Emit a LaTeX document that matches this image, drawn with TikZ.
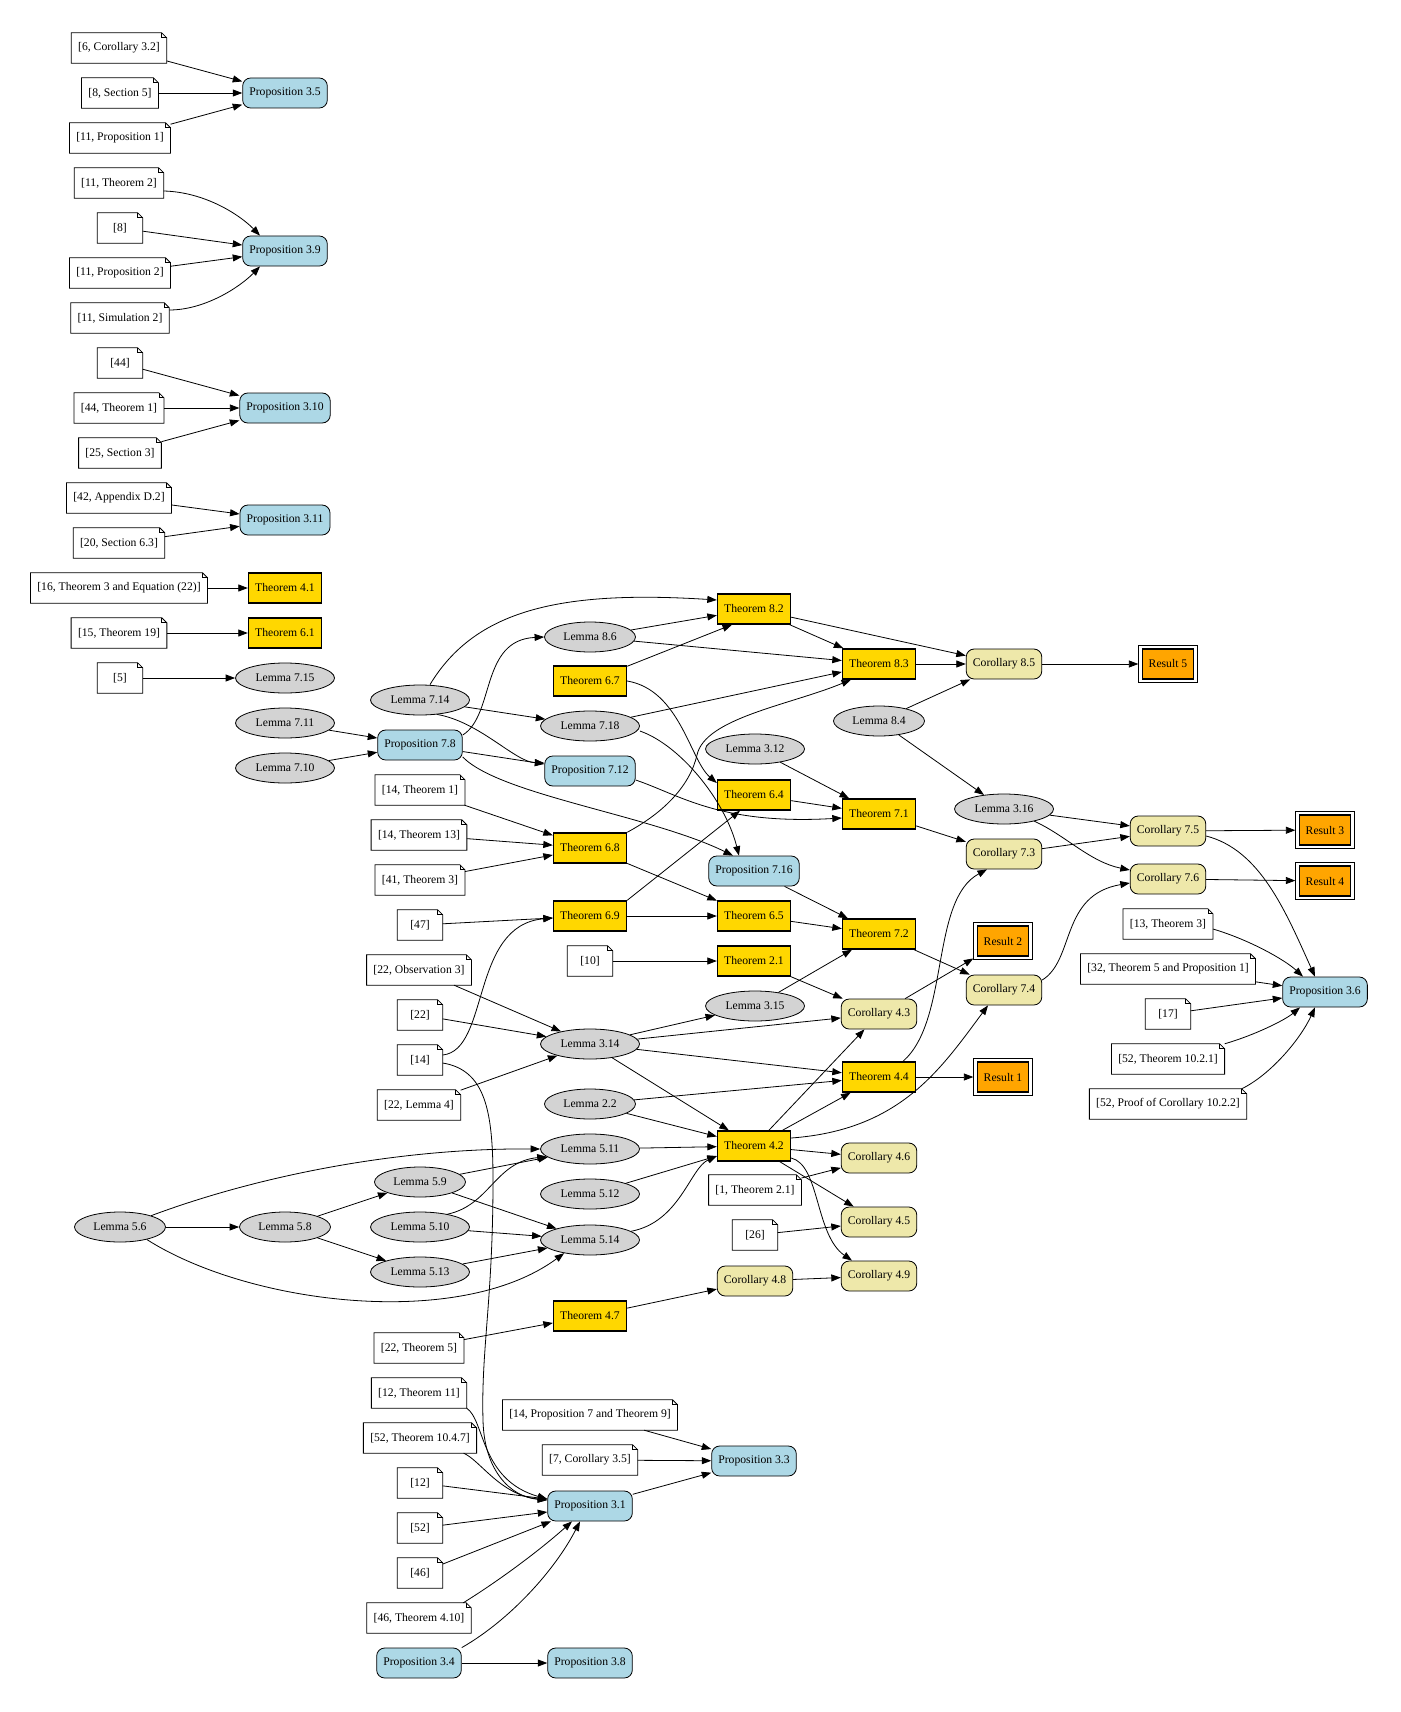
\documentclass[tikz,border=0pt]{standalone}
\usepackage{fontspec}
\setmainfont{Liberation Serif}
\usetikzlibrary{arrows.meta,shapes.geometric}
\definecolor{lblue}{HTML}{ADD8E6}
\definecolor{gold}{HTML}{FFD700}
\definecolor{pgold}{HTML}{EEE8AA}
\definecolor{lgray}{HTML}{D3D3D3}
\definecolor{orng}{HTML}{FFA500}
\newcommand\gvfont{\fontsize{11.67pt}{14pt}\selectfont}
\newcommand\notebox[3]{%
  \node[cite] (#1) at (#2) {#3};
  \draw[noteline] (#1.south west) -- (#1.south east) -- ([yshift=-5pt]#1.north east) -- ([xshift=-5pt]#1.north east) -- (#1.north west) -- cycle;
  \draw[noteline] ([xshift=-5pt]#1.north east) -- ([xshift=-5pt,yshift=-5pt]#1.north east) -- ([yshift=-5pt]#1.north east);
}
\newcommand\resbox[3]{%
  \node[resouter] (#1) at (#2) {};
  \node[resinner] (#1in) at (#2) {#3};
}
\begin{document}
\begin{tikzpicture}[x=1pt,y=-1pt,
  every node/.style={font=\gvfont, text=black},
  cite/.style={rectangle, draw=none, fill=white, inner xsep=6.67pt, inner ysep=0pt, minimum height=30pt, minimum width=45pt},
  noteline/.style={line width=0.8pt, line join=miter},
  lem/.style={ellipse, draw, line width=0.8pt, fill=lgray, inner sep=0pt, minimum height=30pt, minimum width=99pt},
  lems/.style={lem, minimum width=91pt},
  thm/.style={rectangle, draw, line width=1.4pt, fill=gold, inner xsep=6.67pt, inner ysep=0pt, minimum height=30pt, minimum width=45pt},
  prop/.style={rectangle, rounded corners=8pt, draw, line width=0.8pt, fill=lblue, inner xsep=6.67pt, inner ysep=0pt, minimum height=30pt, minimum width=45pt},
  cor/.style={prop, fill=pgold},
  resouter/.style={rectangle, draw, line width=0.8pt, fill=white, minimum width=58.5pt, minimum height=37pt, inner sep=0pt},
  resinner/.style={rectangle, draw, line width=1.4pt, fill=orng, minimum width=51pt, minimum height=30pt, inner sep=0pt},
  e/.style={line width=0.8pt, -{Triangle[length=9.5pt,width=7pt]}}
]
\useasboundingbox (0,0) rectangle (1400,1712);

% column 1 notes
\notebox{n1}{119,48}{[6, Corollary 3.2]}
\notebox{n2}{120,93}{[8, Section 5]}
\notebox{n3}{120,138}{[11, Proposition 1]}
\notebox{n4}{119,183}{[11, Theorem 2]}
\notebox{n5}{120,228}{[8]}
\notebox{n6}{120,273}{[11, Proposition 2]}
\notebox{n7}{120,318}{[11, Simulation 2]}
\notebox{n8}{120,363}{[44]}
\notebox{n9}{119,408}{[44, Theorem 1]}
\notebox{n10}{120,453}{[25, Section 3]}
\notebox{n11}{119,498}{[42, Appendix D.2]}
\notebox{n12}{119,543}{[20, Section 6.3]}
\notebox{n13}{119,588}{[16, Theorem 3 and Equation (22)]}
\notebox{n14}{119,633}{[15, Theorem 19]}
\notebox{n15}{120,678}{[5]}
\node[lems] (L56) at (120,1227) {Lemma 5.6};

% column 2
\node[prop] (P35) at (285,93) {Proposition 3.5};
\node[prop] (P39) at (285,251) {Proposition 3.9};
\node[prop] (P310) at (285,408) {Proposition 3.10};
\node[prop] (P311) at (285,520) {Proposition 3.11};
\node[thm] (T41) at (285,588) {Theorem 4.1};
\node[thm] (T61) at (285,633) {Theorem 6.1};
\node[lem] (L715) at (285,678) {Lemma 7.15};
\node[lem] (L711) at (285,723) {Lemma 7.11};
\node[lem] (L710) at (285,768) {Lemma 7.10};
\node[lems] (L58) at (285,1227) {Lemma 5.8};

% column 3
\node[lem] (L714) at (420,700) {Lemma 7.14};
\node[prop] (P78) at (420,745) {Proposition 7.8};
\notebox{q1}{420,790}{[14, Theorem 1]}
\notebox{q2}{419,835}{[14, Theorem 13]}
\notebox{q3}{420,880}{[41, Theorem 3]}
\notebox{q4}{420,925}{[47]}
\notebox{q5}{419,970}{[22, Observation 3]}
\notebox{q6}{420,1015}{[22]}
\notebox{q7}{420,1060}{[14]}
\notebox{q8}{419,1105}{[22, Lemma 4]}
\node[lems] (L59) at (420,1182) {Lemma 5.9};
\node[lem] (L510) at (420,1227) {Lemma 5.10};
\node[lem] (L513) at (420,1272) {Lemma 5.13};
\notebox{q9}{419,1348}{[22, Theorem 5]}
\notebox{q10}{419,1393}{[12, Theorem 11]}
\notebox{q11}{420,1438}{[52, Theorem 10.4.7]}
\notebox{q12}{420,1483}{[12]}
\notebox{q13}{420,1528}{[52]}
\notebox{q14}{420,1573}{[46]}
\notebox{q15}{419,1618}{[46, Theorem 4.10]}
\node[prop] (P34) at (419,1663) {Proposition 3.4};

% column 4
\node[lems] (L86) at (590,637) {Lemma 8.6};
\node[thm] (T67) at (590,681) {Theorem 6.7};
\node[lem] (L718) at (590,726) {Lemma 7.18};
\node[prop] (P712) at (590,771) {Proposition 7.12};
\node[thm] (T68) at (590,848) {Theorem 6.8};
\node[thm] (T69) at (590,916) {Theorem 6.9};
\notebox{r1}{590,961}{[10]}
\node[lem] (L314) at (590,1044) {Lemma 3.14};
\node[lems] (L22) at (590,1104) {Lemma 2.2};
\node[lem] (L511) at (590,1149) {Lemma 5.11};
\node[lem] (L512) at (590,1194) {Lemma 5.12};
\node[lem] (L514) at (590,1240) {Lemma 5.14};
\node[thm] (T47) at (590,1316) {Theorem 4.7};
\notebox{r2}{590,1415}{[14, Proposition 7 and Theorem 9]}
\notebox{r3}{590,1460}{[7, Corollary 3.5]}
\node[prop] (P31) at (590,1506) {Proposition 3.1};
\node[prop] (P38) at (590,1663) {Proposition 3.8};

% column 5
\node[thm] (T82) at (754,609) {Theorem 8.2};
\node[lem] (L312) at (755,749) {Lemma 3.12};
\node[thm] (T64) at (754,795) {Theorem 6.4};
\node[prop] (P716) at (754,871) {Proposition 7.16};
\node[thm] (T65) at (754,916) {Theorem 6.5};
\node[thm] (T21) at (754,961) {Theorem 2.1};
\node[lem] (L315) at (755,1006) {Lemma 3.15};
\node[thm] (T42) at (754,1146) {Theorem 4.2};
\notebox{s1}{755,1190}{[1, Theorem 2.1]}
\notebox{s2}{755,1235}{[26]}
\node[cor] (C48) at (755,1281) {Corollary 4.8};
\node[prop] (P33) at (754,1461) {Proposition 3.3};

% column 6
\node[thm] (T83) at (879,664) {Theorem 8.3};
\node[lems] (L84) at (879,721) {Lemma 8.4};
\node[thm] (T71) at (879,814) {Theorem 7.1};
\node[thm] (T72) at (879,934) {Theorem 7.2};
\node[cor] (C43) at (879,1014) {Corollary 4.3};
\node[thm] (T44) at (879,1077) {Theorem 4.4};
\node[cor] (C46) at (879,1158) {Corollary 4.6};
\node[cor] (C45) at (879,1222) {Corollary 4.5};
\node[cor] (C49) at (879,1276) {Corollary 4.9};

% column 7
\node[cor] (C85) at (1004,664) {Corollary 8.5};
\node[lem] (L316) at (1004,809) {Lemma 3.16};
\node[cor] (C73) at (1004,854) {Corollary 7.3};
\resbox{R2}{1003,941}{Result 2}
\node[cor] (C74) at (1004,990) {Corollary 7.4};
\resbox{R1}{1003,1077}{Result 1}

% column 8
\resbox{R5}{1168,664}{Result 5}
\node[cor] (C75) at (1168,831) {Corollary 7.5};
\node[cor] (C76) at (1168,879) {Corollary 7.6};
\notebox{t1}{1168,924}{[13, Theorem 3]}
\notebox{t2}{1168,969}{[32, Theorem 5 and Proposition 1]}
\notebox{t3}{1168,1014}{[17]}
\notebox{t4}{1168,1059}{[52, Theorem 10.2.1]}
\notebox{t5}{1168,1104}{[52, Proof of Corollary 10.2.2]}

% column 9
\resbox{R3}{1325,830}{Result 3}
\resbox{R4}{1325,881}{Result 4}
\node[prop] (P36) at (1325,992) {Proposition 3.6};

% ---------------- edges ----------------
\draw[e] (n1) -- (P35);
\draw[e] (n2) -- (P35);
\draw[e] (n3) -- (P35);
\draw[e] ([yshift=-8pt]n4.east) .. controls (205,192) and (240,215) .. ([xshift=-25pt]P39.north);
\draw[e] (n5) -- (P39);
\draw[e] (n6) -- (P39);
\draw[e] ([yshift=8pt]n7.east) .. controls (205,310) and (240,287) .. ([xshift=-25pt]P39.south);
\draw[e] (n8) -- (P310);
\draw[e] (n9) -- (P310);
\draw[e] (n10) -- (P310);
\draw[e] (n11) -- (P311);
\draw[e] (n12) -- (P311);
\draw[e] (n13) -- (T41);
\draw[e] (n14) -- (T61);
\draw[e] (n15) -- (L715);
\draw[e] (L711) -- (P78);
\draw[e] (L710) -- (P78);

\draw[e] ([xshift=10pt]L714.north) .. controls (475,610) and (560,590) .. ([yshift=9pt]T82.west);
\draw[e] (L714) -- (L718);
\draw[e] (L714.-40) .. controls (480,722) and (515,762) .. ([yshift=8pt]P712.west);
\draw[e] ([yshift=10pt]P78.east) .. controls (495,715) and (480,640) .. (L86.west);
\draw[e] (P78) -- (P712);
\draw[e] ([yshift=-12pt]P78.east) .. controls (500,795) and (650,815) .. ([xshift=-21pt]P716.north);

\draw[e] (L86) -- (T82);
\draw[e] (L86) -- (T83);
\draw[e] (T67) -- ([xshift=-22pt]T82.south);
\draw[e] (T67.east) .. controls (680,690) and (690,760) .. ([yshift=12pt]T64.west);
\draw[e] (L718) -- (T83);
\draw[e] ([yshift=-5pt]L718.east) .. controls (680,745) and (725,800) .. ([xshift=-15pt]P716.north);
\draw[e] ([yshift=-9pt]P712.east) .. controls (680,795) and (720,825) .. ([yshift=-4pt]T71.west);
\draw[e] (T68.north east) .. controls (665,812) and (690,785) .. (697,755) .. controls (705,718) and (790,705) .. ([xshift=-28pt]T83.south);
\draw[e] (T68) -- (T65);
\draw[e] (T69) -- (T65);
\draw[e] (T69.north east) -- ([xshift=-14pt]T64.south);
\draw[e] (q1) -- (T68);
\draw[e] (q2) -- (T68);
\draw[e] (q3) -- (T68);
\draw[e] (q4) -- (T69);
\draw[e] ([yshift=5pt]q7.east) .. controls (490,1050) and (470,925) .. ([yshift=-2pt]T69.west);
\draw[e] ([yshift=-3pt]q7.east) .. controls (485,1070) and (493,1110) .. (493,1180) .. controls (493,1300) and (481,1350) .. (483,1420) .. controls (484,1470) and (510,1497) .. ([yshift=6pt]P31.west);
\draw[e] (q5) -- (L314);
\draw[e] (q6) -- (L314);
\draw[e] (q8) -- (L314);
\draw[e] (r1) -- (T21);

\draw[e] (T82) -- (T83);
\draw[e] (T82) -- (C85);
\draw[e] (T83) -- (C85);
\draw[e] (L84) -- (C85);
\draw[e] (L84) -- (L316);
\draw[e] (C85) -- (R5);
\draw[e] (L312) -- (T71);
\draw[e] (T64) -- (T71);
\draw[e] (T71) -- (C73);
\draw[e] (T65) -- (T72);
\draw[e] (P716) -- (T72);
\draw[e] (L315) -- (T72);
\draw[e] (T72) -- (C74);
\draw[e] (T21) -- (C43);

\draw[e] (L314) -- (L315);
\draw[e] (L314) -- (C43);
\draw[e] (L314) -- (T44);
\draw[e] (L314) -- (T42);
\draw[e] (L22) -- (T44);
\draw[e] (L22) -- (T42);
\draw[e] (L511) -- (T42);
\draw[e] (L512) -- ([yshift=-10pt]T42.west);
\draw[e] (L514.12) .. controls (680,1222) and (690,1168) .. ([yshift=-10pt]T42.west);
\draw[e] (T42) -- (C43);
\draw[e] (T42) -- (T44);
\draw[e] (T42) -- (C46);
\draw[e] (T42) -- (C45);
\draw[e] ([yshift=-12pt]T42.east) .. controls (820,1165) and (815,1235) .. ([xshift=-27pt]C49.north);
\draw[e] ([yshift=8pt]T42.east) .. controls (900,1130) and (940,1070) .. ([xshift=-16pt]C74.south);
\draw[e] ([xshift=24pt]T44.north) .. controls (950,1020) and (930,900) .. ([xshift=-17pt]C73.south);
\draw[e] (T44) -- (R1);
\draw[e] (C43) -- (R2);
\draw[e] (s1) -- (C46);
\draw[e] (s2) -- (C45);
\draw[e] (C48) -- (C49);
\draw[e] (T47) -- (C48);
\draw[e] (q9) -- (T47);

\draw[e] (L56) -- (L58);
\draw[e] (L56.20) .. controls (260,1175) and (400,1148) .. (L511.west);
\draw[e] (L56.-25) .. controls (250,1305) and (460,1330) .. (L514.207);
\draw[e] (L58) -- (L59);
\draw[e] (L58) -- (L513);
\draw[e] (L59) -- (L511);
\draw[e] (L59) -- (L514);
\draw[e] (L510) -- (L514);
\draw[e] (L513) -- (L514);
\draw[e] (L510.25) .. controls (490,1205) and (495,1162) .. (L511.190);

\draw[e] (q10.south east) .. controls (485,1420) and (480,1480) .. ([yshift=7pt]P31.west);
\draw[e] ([xshift=-13pt]q11.south east) .. controls (480,1460) and (500,1495) .. ([yshift=6pt]P31.west);
\draw[e] (q12) -- ([yshift=7pt]P31.west);
\draw[e] (q13) -- ([yshift=-6pt]P31.west);
\draw[e] (q14) -- (P31);
\draw[e] ([xshift=-8pt]q15.north east) .. controls (500,1580) and (540,1550) .. ([xshift=-18pt]P31.south);
\draw[e] (P34.north east) .. controls (510,1620) and (555,1570) .. ([xshift=-10pt]P31.south);
\draw[e] (P34) -- (P38);
\draw[e] (P31) -- (P33);
\draw[e] (r2) -- (P33);
\draw[e] (r3) -- (P33);

\draw[e] (L316) -- (C75);
\draw[e] (C73) -- (C75);
\draw[e] (L316.-22) .. controls (1065,835) and (1090,862) .. ([yshift=9pt]C76.west);
\draw[e] ([yshift=10pt]C74.east) .. controls (1075,960) and (1060,895) .. ([yshift=-4pt]C76.west);
\draw[e] (C75) -- (R3);
\draw[e] (C76) -- (R4);
\draw[e] ([yshift=-5pt]C75.east) .. controls (1260,850) and (1285,910) .. ([xshift=-10pt]P36.north);
\draw[e] ([yshift=-5pt]t1.east) .. controls (1250,940) and (1285,960) .. ([xshift=-22pt]P36.north);
\draw[e] (t2) -- (P36);
\draw[e] (t3) -- (P36);
\draw[e] (t4.north east) .. controls (1255,1035) and (1285,1020) .. ([xshift=-25pt]P36.south);
\draw[e] ([xshift=-5pt]t5.north east) .. controls (1270,1075) and (1300,1040) .. ([xshift=-10pt]P36.south);
\end{tikzpicture}
\end{document}
